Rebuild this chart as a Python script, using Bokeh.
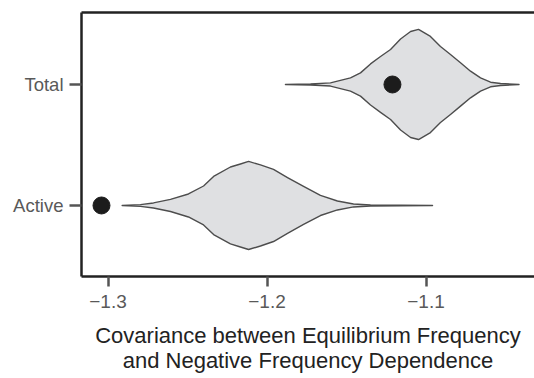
import numpy as np
from bokeh.plotting import figure
from bokeh.models import Range1d, FixedTicker, LinearAxis, CustomJSTickFormatter
from bokeh.embed import file_html
from bokeh.resources import INLINE

# ---- data ----
categories = ["Active", "Total"]
cat_pos = [0, 1]

total_x = [-1.1884, -1.1726, -1.1601, -1.1475, -1.1412, -1.1349, -1.1286, -1.1223, -1.1160, -1.1097,
           -1.1047, -1.0972, -1.0909, -1.0846, -1.0783, -1.0720, -1.0657, -1.0594, -1.0531, -1.0415]
total_half = [0.0, 0.004, 0.013, 0.055, 0.096, 0.170, 0.231, 0.289, 0.376, 0.438,
              0.455, 0.397, 0.314, 0.248, 0.179, 0.110, 0.055, 0.019, 0.008, 0.0]

active_x = [-1.2911, -1.2796, -1.2714, -1.2607, -1.2494, -1.2399, -1.2336, -1.2230, -1.2167, -1.2116,
            -1.2041, -1.1959, -1.1871, -1.1770, -1.1664, -1.1557, -1.1456, -1.1349, -1.0959]
active_half = [0.0, 0.007, 0.021, 0.050, 0.095, 0.161, 0.240, 0.318, 0.343, 0.364,
               0.335, 0.298, 0.231, 0.157, 0.083, 0.037, 0.012, 0.004, 0.0]

observed = [-1.3041, -1.1211]   # Active, Total

x_ticks = [-1.3, -1.2, -1.1]
x_title = "Covariance between Equilibrium Frequency\nand Negative Frequency Dependence"

FONT = "Liberation Sans"

p = figure(width=534, height=378, output_backend="svg", toolbar_location=None,
           x_range=Range1d(-1.31667, -1.03176), y_range=Range1d(-0.587, 1.595),
           min_border_left=81, min_border_right=0, min_border_top=12, min_border_bottom=102)
p.outline_line_color = None
p.xgrid.visible = False
p.ygrid.visible = False
p.background_fill_color = "white"
p.border_fill_color = "white"

fill = "#dfe0e2"
edge = "#4d4d4d"
for xs, hw, c in [(active_x, active_half, cat_pos[0]), (total_x, total_half, cat_pos[1])]:
    xs = np.array(xs)
    hw = np.array(hw)
    px = np.concatenate([xs, xs[::-1]])
    py = np.concatenate([c + hw, (c - hw)[::-1]])
    p.patch(px, py, fill_color=fill, line_color=edge, line_width=1.4, line_join="round")

p.scatter(observed, cat_pos, size=17, color="#1c1c1c")

# axes styling
xa = p.xaxis[0]
xa.ticker = FixedTicker(ticks=x_ticks)
xa.formatter = CustomJSTickFormatter(code="return tick.toFixed(1).replace('-', '\u2212');")
xa.axis_label = x_title
xa.axis_label_text_font = FONT
xa.axis_label_text_font_size = "22px"
xa.axis_label_text_font_style = "normal"
xa.axis_label_text_color = "#222222"
xa.axis_label_text_line_height = 1.0
xa.axis_label_standoff = 12
xa.major_label_text_font = FONT
xa.major_label_text_font_size = "19px"
xa.major_label_text_color = "#595959"
xa.major_label_standoff = 8
xa.axis_line_width = 2.5
xa.axis_line_color = "#222222"
xa.major_tick_line_color = "#555555"
xa.major_tick_line_width = 2.5
xa.major_tick_out = 10
xa.major_tick_in = 0
xa.minor_tick_line_color = None

ya = p.yaxis[0]
ya.ticker = FixedTicker(ticks=cat_pos)
ya.major_label_overrides = {cat_pos[i]: categories[i] for i in range(2)}
ya.major_label_text_font = FONT
ya.major_label_text_font_size = "18.5px"
ya.major_label_text_color = "#595959"
ya.major_label_standoff = 6
ya.axis_line_width = 2.5
ya.axis_line_color = "#222222"
ya.major_tick_line_color = "#555555"
ya.major_tick_line_width = 2.5
ya.major_tick_out = 12
ya.major_tick_in = 0
ya.minor_tick_line_color = None

top = LinearAxis(ticker=FixedTicker(ticks=[]), axis_line_width=2.5, axis_line_color="#222222",
                 major_tick_line_color=None, minor_tick_line_color=None)
p.add_layout(top, "above")

open("out.html", "w").write(file_html(p, INLINE))
